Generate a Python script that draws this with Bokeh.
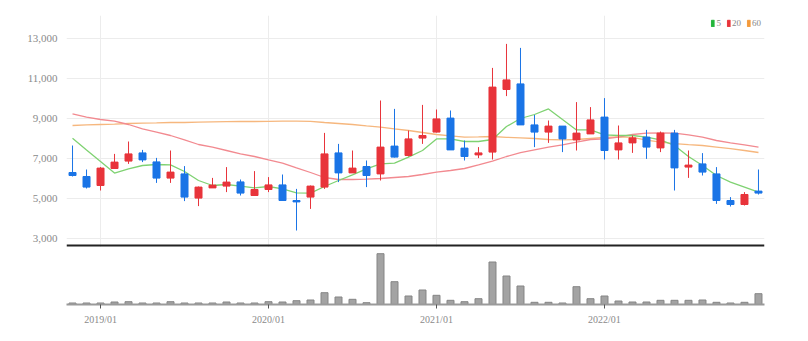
from bokeh.plotting import figure
from bokeh.layouts import column
from bokeh.models import (ColumnDataSource, FixedTicker, NumeralTickFormatter, Range1d,
                          Span, Legend, LegendItem)
from bokeh.embed import file_html
from bokeh.resources import INLINE

months = [
    "2018/11", "2018/12",
    "2019/01", "2019/02", "2019/03", "2019/04", "2019/05", "2019/06",
    "2019/07", "2019/08", "2019/09", "2019/10", "2019/11", "2019/12",
    "2020/01", "2020/02", "2020/03", "2020/04", "2020/05", "2020/06",
    "2020/07", "2020/08", "2020/09", "2020/10", "2020/11", "2020/12",
    "2021/01", "2021/02", "2021/03", "2021/04", "2021/05", "2021/06",
    "2021/07", "2021/08", "2021/09", "2021/10", "2021/11", "2021/12",
    "2022/01", "2022/02", "2022/03", "2022/04", "2022/05", "2022/06",
    "2022/07", "2022/08", "2022/09", "2022/10", "2022/11", "2022/12",
]
opens = [6300, 6100, 5650, 6500, 6870, 7280, 6830, 6020, 6230, 5020,
         5530, 5620, 5830, 5150, 5450, 5680, 4900, 5070, 5570, 7280,
         6280, 6600, 6230, 7620, 7150, 8020, 8320, 9020, 7520, 7180,
         7320, 10450, 10730, 8680, 8320, 8620, 7930, 8230, 9070, 7430,
         7780, 8070, 7530, 8270, 6570, 6730, 6230, 4900, 4700, 5370]
highs = [7650, 6450, 6570, 7230, 7850, 7430, 7030, 7400, 6620, 5600,
         6030, 6570, 5950, 6370, 6070, 6200, 5480, 5650, 8280, 7730,
         7400, 6900, 9900, 9480, 8400, 9680, 9450, 9400, 7900, 7570,
         11530, 12730, 12530, 9180, 8900, 8620, 9820, 9570, 10020, 8650,
         8150, 8430, 8350, 8430, 7400, 7270, 6570, 5070, 5320, 6450]
lows = [6100, 5500, 5400, 6480, 6730, 6820, 5780, 5780, 4870, 4620,
        5530, 5320, 5150, 5150, 5320, 4880, 3400, 4480, 5480, 5820,
        6280, 5570, 5900, 7050, 7100, 7730, 8300, 7430, 6900, 7020,
        6950, 10120, 8680, 7570, 7780, 7320, 7400, 8230, 6950, 6950,
        7280, 6980, 7320, 5400, 6030, 6150, 4730, 4600, 4650, 5200]
closes = [6150, 5570, 6520, 6820, 7230, 6930, 6020, 6320, 5070, 5570,
          5670, 5820, 5270, 5450, 5680, 4900, 4830, 5620, 7230, 6280,
          6520, 6150, 7570, 7070, 7980, 8150, 8980, 7430, 7100, 7280,
          10570, 10930, 8680, 8320, 8620, 7980, 8270, 8930, 7400, 7780,
          8030, 7570, 8270, 6530, 6670, 6320, 4900, 4700, 5200, 5270]
volumes = [15, 15, 15, 25, 28, 15, 15, 28, 15, 15,
           15, 25, 15, 15, 28, 25, 38, 45, 118, 75,
           52, 18, 508, 228, 85, 145, 92, 42, 28, 58,
           425, 285, 185, 22, 22, 15, 178, 58, 85, 35,
           25, 25, 42, 42, 42, 45, 22, 15, 22, 108]
ma5 = [8017, 7430, 6850, 6270, 6480, 6650, 6700, 6680, 6350, 5900,
       5650, 5700, 5620, 5530, 5600, 5480, 5280, 5270, 5600, 5900,
       6180, 6480, 6730, 6770, 7070, 7400, 7980, 7980, 7850, 7850,
       7950, 8600, 9000, 9200, 9480, 8950, 8430, 8430, 8180, 8150,
       8150, 8070, 7930, 7650, 7100, 6650, 6150, 5820, 5570, 5320]
ma20 = [9230, 9070, 8950, 8870, 8700, 8480, 8320, 8150, 7930, 7700,
        7570, 7400, 7230, 7100, 6930, 6770, 6530, 6300, 6050, 5950,
        5950, 5970, 6000, 6050, 6100, 6200, 6320, 6400, 6500, 6680,
        6870, 7100, 7290, 7430, 7570, 7680, 7820, 7950, 7980, 8070,
        8200, 8270, 8280, 8270, 8180, 8070, 7900, 7780, 7680, 7570]
ma60 = [8650, 8680, 8700, 8720, 8750, 8770, 8780, 8800, 8800, 8820,
        8830, 8840, 8850, 8850, 8860, 8870, 8870, 8860, 8800, 8750,
        8700, 8630, 8570, 8480, 8400, 8300, 8200, 8130, 8070, 8080,
        8100, 8060, 8030, 8000, 7950, 7930, 7950, 8000, 8050, 8080,
        8060, 7920, 7820, 7740, 7690, 7650, 7570, 7490, 7400, 7300]
y_ticks = [3000, 5000, 7000, 9000, 11000, 13000]
legend_labels = ["5", "20", "60"]

UP = "#e8343b"
DOWN = "#1a74e6"
C5 = "#7fd272"
C20 = "#f28a90"
C60 = "#f6b77e"
LEG = ["#22b53a", "#e8343b", "#f39a3c"]
FONT = "Liberation Sans Narrow"

idx = list(range(len(months)))
up = [c >= o for o, c in zip(opens, closes)]
src = ColumnDataSource(dict(
    x=idx, open=opens, high=highs, low=lows, close=closes, vol=volumes,
    top=[max(o, c) for o, c in zip(opens, closes)],
    bottom=[min(o, c) for o, c in zip(opens, closes)],
    color=[UP if u else DOWN for u in up],
    ma5=ma5, ma20=ma20, ma60=ma60,
))

tick_idx = [i for i, m in enumerate(months) if m.endswith("/01")]
x_range = Range1d(-0.43, len(months) - 1 + 0.43)

# main price panel: frame from y=15 to y=247 (50 won per pixel)
p = figure(width=808, height=247, x_range=x_range, y_range=Range1d(2550, 14150),
           output_backend="svg", toolbar_location=None,
           min_border_left=66, min_border_right=44, min_border_top=15,
           min_border_bottom=0)
p.outline_line_color = None
p.xaxis.visible = False
p.xgrid.ticker = FixedTicker(ticks=tick_idx)
p.xgrid.grid_line_color = "#ececec"
p.ygrid.grid_line_color = "#ececec"
p.yaxis.ticker = FixedTicker(ticks=y_ticks)
p.yaxis.formatter = NumeralTickFormatter(format="0,0")
p.yaxis.axis_line_color = None
p.yaxis.major_tick_line_color = None
p.yaxis.minor_tick_line_color = None
p.yaxis.major_label_standoff = 3
p.yaxis.major_label_text_color = "#8a8a8a"
p.yaxis.major_label_text_font = FONT
p.yaxis.major_label_text_font_size = "11px"

p.line("x", "ma60", source=src, color=C60, line_width=1.3)
p.line("x", "ma20", source=src, color=C20, line_width=1.3)
p.line("x", "ma5", source=src, color=C5, line_width=1.3)
p.segment(x0="x", y0="high", x1="x", y1="low", source=src, color="color", line_width=1)
p.vbar(x="x", width=0.5, top="top", bottom="bottom", source=src,
       fill_color="color", line_color="color")

p.add_layout(Span(location=2650, dimension="width", line_color="#222222", line_width=2))

# hidden swatch renderers on the MA series: they only supply square legend glyphs
leg_r = []
for col, c in zip(["ma5", "ma20", "ma60"], LEG):
    r = p.vbar(x="x", width=0.5, top=col, bottom=col, source=src,
               fill_color=c, line_color=c)
    r.visible = False
    leg_r.append(r)
legend = Legend(items=[LegendItem(label=l, renderers=[r], index=0)
                       for l, r in zip(legend_labels, leg_r)],
                orientation="horizontal", location="top_right",
                glyph_width=4, glyph_height=8, label_standoff=2, spacing=5,
                label_width=0, padding=0, margin=3,
                border_line_color=None, background_fill_alpha=0,
                inactive_fill_alpha=0,
                label_text_font=FONT, label_text_font_size="9px",
                label_text_color="#888888", label_height=9)
p.add_layout(legend)

pv = figure(width=808, height=87, x_range=x_range, y_range=Range1d(0, 570),
            output_backend="svg", toolbar_location=None,
            min_border_left=66, min_border_right=44, min_border_top=0,
            min_border_bottom=30)
pv.outline_line_color = None
pv.yaxis.visible = False
pv.xgrid.visible = False
pv.ygrid.visible = False
pv.vbar(x="x", width=0.5, top="vol", bottom=0, source=src,
        fill_color="#a3a3a3", line_color="#858585")
pv.xaxis.ticker = FixedTicker(ticks=tick_idx)
pv.xaxis.major_label_overrides = {i: months[i] for i in tick_idx}
pv.xaxis.axis_line_color = "#9a9a9a"
pv.xaxis.axis_line_width = 2
pv.xaxis.major_tick_line_color = "#555555"
pv.xaxis.major_tick_in = 0
pv.xaxis.major_tick_out = 4
pv.xaxis.minor_tick_line_color = None
pv.xaxis.major_label_standoff = 5
pv.xaxis.major_label_text_color = "#8a8a8a"
pv.xaxis.major_label_text_font = FONT
pv.xaxis.major_label_text_font_size = "10px"

layout = column(p, pv)
open("out.html", "w").write(file_html(layout, INLINE))
